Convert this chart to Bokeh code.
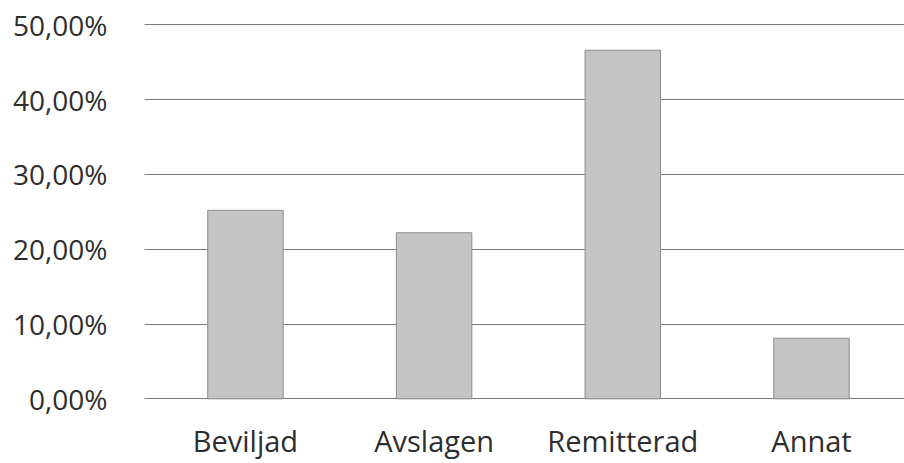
from bokeh.plotting import figure
from bokeh.models import Range1d, FixedTicker, ColumnDataSource
from bokeh.core.properties import value
from bokeh.embed import file_html
from bokeh.resources import INLINE

categories = ["Beviljad", "Avslagen", "Remitterad", "Annat"]
values = [25.2, 22.2, 46.6, 8.1]
y_ticks = [0, 10, 20, 30, 40, 50]
y_tick_labels = ["0,00%", "10,00%", "20,00%", "30,00%", "40,00%", "50,00%"]

xs = list(range(len(categories)))
label_y = [-5.6] * len(categories)
src = ColumnDataSource(dict(x=xs, top=values, cat=categories, ly=label_y))

p = figure(width=904, height=463, output_backend="svg", toolbar_location=None,
           x_range=Range1d(-0.535, 3.493), y_range=Range1d(-8.65, 53.25),
           min_border_left=144, min_border_right=0, min_border_top=0, min_border_bottom=0)

p.vbar(x="x", top="top", width=0.4, bottom=0, source=src,
       fill_color="#c4c4c4", line_color="#8c8c8c", line_width=1)

p.text(x="x", y="ly", text="cat", source=src, text_align="center",
       text_baseline="alphabetic", text_font=value("Open Sans"),
       text_font_size=value("29px"), text_color="#2e2e2e")

p.outline_line_color = None
p.background_fill_color = "white"
p.border_fill_color = "white"

p.xaxis.visible = False
p.xgrid.grid_line_color = None
p.ygrid.grid_line_color = "#7a7a7a"
p.ygrid.grid_line_width = 1

p.yaxis.ticker = FixedTicker(ticks=y_ticks)
p.ygrid.ticker = FixedTicker(ticks=y_ticks)
p.yaxis.major_label_overrides = {t: l for t, l in zip(y_ticks, y_tick_labels)}
p.yaxis.axis_line_color = None
p.yaxis.major_tick_line_color = None
p.yaxis.minor_tick_line_color = None
p.yaxis.major_tick_out = 0
p.yaxis.major_tick_in = 0
p.yaxis.major_label_standoff = 37
p.yaxis.major_label_text_font = "Open Sans"
p.yaxis.major_label_text_font_size = "28px"
p.yaxis.major_label_text_color = "#2e2e2e"

open("out.html", "w").write(file_html(p, INLINE))
